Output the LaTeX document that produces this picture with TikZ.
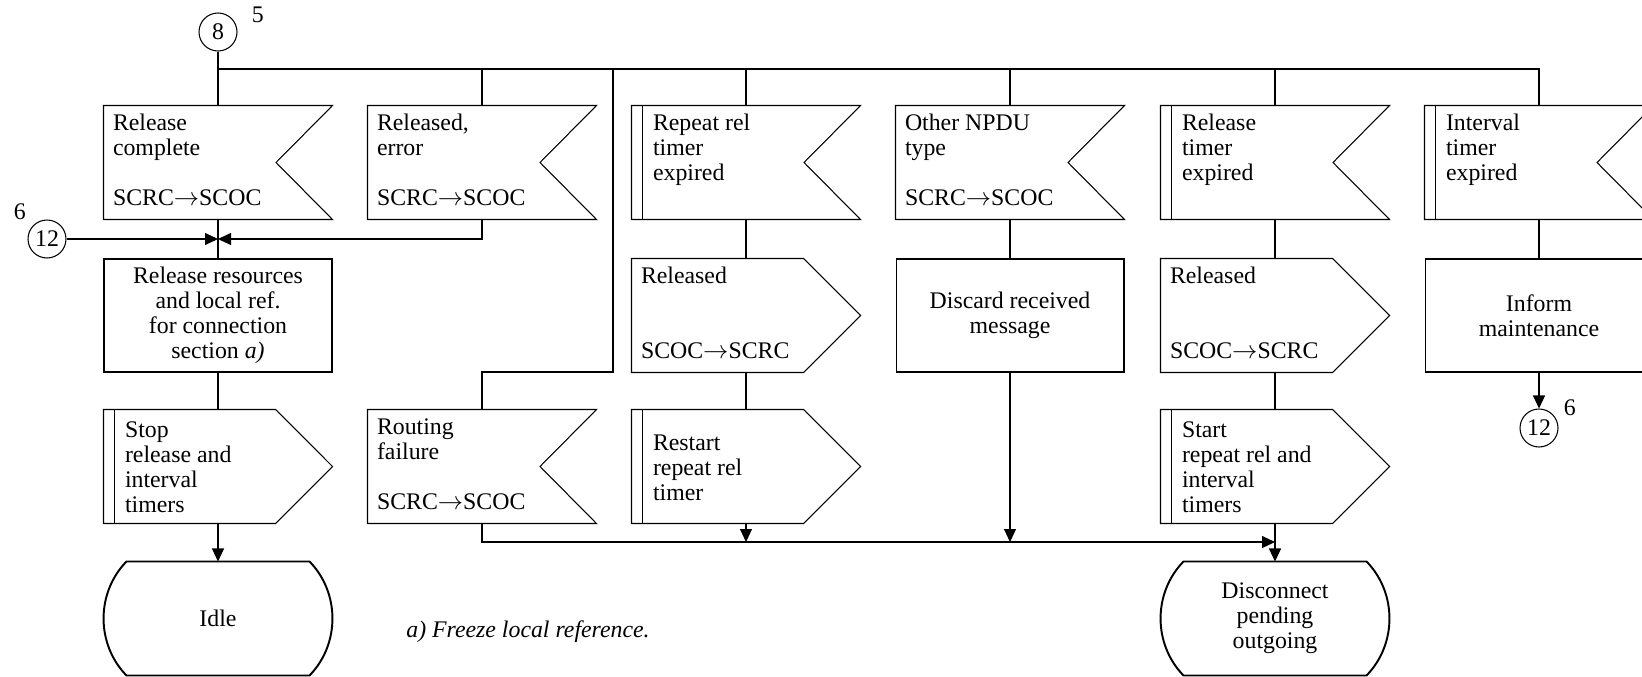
\documentclass[tikz,border=0pt]{standalone}
\usepackage{fontspec}
\setmainfont{Liberation Serif}
\usetikzlibrary{arrows.meta,calc}
\newcommand{\sig}[3][t]{\parbox[c][2cm][#1]{4.2cm}{\leftskip=#2\strut#3}}
\newcommand{\skipln}{\\[14.23pt]}
\newcommand{\arw}{$\rightarrow$}

\begin{document}
\begin{tikzpicture}[x=0.02cm, y=-0.02cm, line width=0.6pt,
    font=\fontsize{13.55}{14.23}\selectfont,
    box/.style={rectangle, inner xsep=0.18cm, inner ysep=0.13cm, minimum width=4.56cm, minimum height=2.26cm},
    task/.style={box, draw, align=center},
    sdl/.style={box, align=center},
    conn/.style={circle, draw, inner sep=0pt, minimum size=0.76cm},
    arr/.style={-{Triangle[length=0.26cm, width=0.24cm]}},
    bar/.style={line width=1.1pt}]
  \useasboundingbox (0,0) rectangle (1642,676);
  \clip (0,0) rectangle (1642,676);

  \node[conn, label={[label distance=0.3cm, inner sep=0pt]15:5}] (c8) at (218,32) {8};
  \node[conn, label={[label distance=0cm]140:6}] (c12a) at (47,239) {12};

  \node[box] (rc) at (218,162.5) {\sig{0pt}{Release\\complete\skipln SCRC\arw SCOC}};
  \node[box] (re) at (482,162.5) {\sig{0pt}{Released,\\error\skipln SCRC\arw SCOC}};
  \node[box] (rt) at (746,162.5) {\sig{0.24cm}{Repeat rel\\timer\\expired}};
  \node[box] (on) at (1010,162.5) {\sig{0pt}{Other NPDU\\type\skipln SCRC\arw SCOC}};
  \node[box] (lt) at (1275,162.5) {\sig{0.24cm}{Release\\timer\\expired}};
  \node[box] (it) at (1539,162.5) {\sig{0.24cm}{Interval\\timer\\expired}};

  \node[task] (rr) at (218,315.5) {Release resources\\and local ref.\\for connection\\section \textit{a)}};
  \node[box] (rs1) at (746,315.5) {\sig{0pt}{Released\\[28.46pt]SCOC\arw SCRC}};
  \node[task] (dm) at (1010,315.5) {Discard received\\message};
  \node[box] (rs2) at (1275,315.5) {\sig{0pt}{Released\\[28.46pt]SCOC\arw SCRC}};
  \node[task] (im) at (1539,315.5) {Inform\\maintenance};

  \node[box] (st) at (218,466.5) {\sig[c]{0.24cm}{Stop\\release and\\interval\\timers}};
  \node[box] (rf) at (482,466.5) {\sig{0pt}{Routing\\failure\skipln SCRC\arw SCOC}};
  \node[box] (rr2) at (746,466.5) {\sig[c]{0.24cm}{Restart\\repeat rel\\timer}};
  \node[box] (sr) at (1275,466.5) {\sig[c]{0.24cm}{Start\\repeat rel and\\interval\\timers}};
  \node[conn, label={[label distance=0cm]18:6}] (c12b) at (1539,428) {12};

  \node[sdl] (idle) at (218,618.5) {Idle};
  \node[sdl] (dp) at (1275,618.5) {Disconnect\\pending\\outgoing};
  \node[anchor=base west, font=\fontsize{13.55}{14.23}\selectfont\itshape] (fn) at (400,637) {a) Freeze local reference.};

  \foreach \n in {rc,re,rt,on,lt,it,rf}
    \draw (\n.north west) -- (\n.north east) -- ($(\n.east)+(-56.5,0)$) -- (\n.south east) -- (\n.south west) -- cycle;
  \foreach \n in {rs1,rs2,st,rr2,sr}
    \draw (\n.north west) -- ($(\n.north east)+(-57,0)$) -- (\n.east) -- ($(\n.south east)+(-57,0)$) -- (\n.south west) -- cycle;
  \foreach \n in {rt,lt,it,st,rr2,sr}
    \draw[bar] ($(\n.north west)+(11,0)$) -- ($(\n.south west)+(11,0)$);
  \foreach \n in {idle,dp}
    \draw[bar] ($(\n.north west)+(23,0)$) -- ($(\n.north east)+(-23,0)$)
      .. controls ($(\n.north east)+(7.6,31.4)$) and ($(\n.south east)+(7.6,-31.4)$) .. ($(\n.south east)+(-23,0)$)
      -- ($(\n.south west)+(23,0)$)
      .. controls ($(\n.south west)+(-7.6,-31.4)$) and ($(\n.north west)+(-7.6,31.4)$) .. cycle;

  \coordinate (bus) at (0,69);
  \coordinate (jn) at (218,239);
  \coordinate (tap) at (613,372);
  \coordinate (bt) at (0,542);

  \draw (c8) -- (rc);
  \draw (rc.north |- bus) -| (it.north);
  \foreach \n in {re,rt,on,lt}
    \draw (\n.north |- bus) -- (\n.north);
  \draw (tap |- bus) -- (tap) -| (rf.north);
  \draw (rc) -- (rr);
  \draw[arr] (c12a) -- (jn);
  \draw[arr] (re.south) |- (jn);
  \draw (rr) -- (st);
  \draw[arr] (st) -- (idle);
  \draw (rt) -- (rs1) -- (rr2);
  \draw[arr] (rr2) -- (rr2.south |- bt);
  \draw (on) -- (dm);
  \draw[arr] (dm) -- (dm.south |- bt);
  \draw (lt) -- (rs2) -- (sr);
  \draw[arr] (rf.south) |- (sr.south |- bt);
  \draw[arr] (sr) -- (dp);
  \draw (it) -- (im);
  \draw[arr] (im) -- (c12b);
\end{tikzpicture}
\end{document}
